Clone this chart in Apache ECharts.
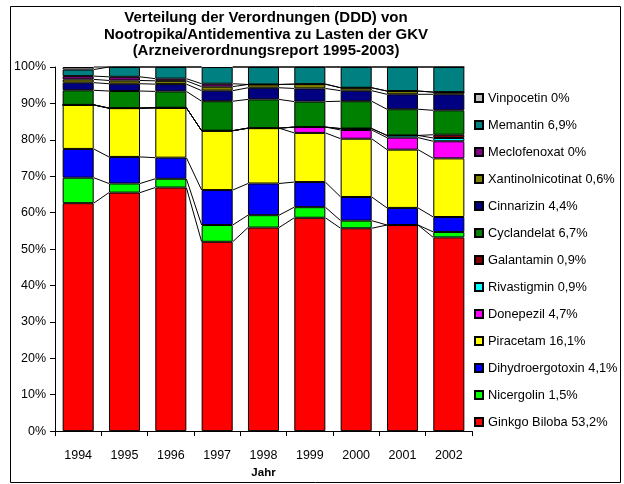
<!DOCTYPE html>
<html>
<head>
<meta charset="utf-8">
<script src="https://cdn.jsdelivr.net/npm/echarts@6/dist/echarts.min.js"></script>
<style>
  html, body { margin: 0; padding: 0; background: #fff; }
  #chart { width: 624px; height: 484px; }
</style>
</head>
<body>
<div id="chart"></div>
<script>
const years = ['1994', '1995', '1996', '1997', '1998', '1999', '2000', '2001', '2002']

// shares per year in percent (bottom of the stack first)
const ginkgo       = [62.6, 65.5, 66.9, 52.0, 55.9, 58.6, 55.7, 56.6, 53.2]
const nicergolin   = [7.0, 2.5, 2.4, 4.6, 3.4, 2.9, 2.1, 0, 1.5]
const dihydro      = [7.9, 7.3, 5.8, 9.6, 8.7, 6.9, 6.5, 4.7, 4.1]
const piracetam    = [12.1, 13.4, 13.7, 16.3, 15.2, 13.5, 16.0, 16.0, 16.1]
const donepezil    = [0, 0, 0, 0, 0, 1.6, 2.4, 3.3, 4.7]
const rivastigmin  = [0, 0, 0, 0, 0, 0, 0.4, 0.6, 0.9]
const galantamin   = [0, 0, 0, 0, 0, 0, 0, 0, 0.9]
const cyclandelat  = [4.0, 4.7, 4.5, 8.1, 7.9, 7.0, 7.5, 7.2, 6.7]
const cinnarizin   = [2.1, 2.0, 2.0, 2.9, 3.2, 3.6, 2.9, 4.1, 4.4]
const xantinol     = [0.9, 0.9, 0.9, 1.1, 0.9, 1.2, 0.8, 0.9, 0.6]
const meclofenoxat = [0.9, 1.0, 0.6, 0.8, 0, 0, 0, 0, 0]
const memantin     = [1.8, 2.7, 3.2, 4.6, 4.8, 4.7, 5.7, 6.6, 6.9]
const vinpocetin   = [0.7, 0, 0, 0, 0, 0, 0, 0, 0]

const seriesLabels = [
  'Ginkgo Biloba 53,2%', 'Nicergolin 1,5%', 'Dihydroergotoxin 4,1%', 'Piracetam 16,1%',
  'Donepezil 4,7%', 'Rivastigmin 0,9%', 'Galantamin 0,9%', 'Cyclandelat 6,7%',
  'Cinnarizin 4,4%', 'Xantinolnicotinat 0,6%', 'Meclofenoxat 0%', 'Memantin 6,9%', 'Vinpocetin 0%'
]
const seriesValues = [
  ginkgo, nicergolin, dihydro, piracetam, donepezil, rivastigmin, galantamin,
  cyclandelat, cinnarizin, xantinol, meclofenoxat, memantin, vinpocetin
]
const colors = [
  '#FF0000', '#00FF00', '#0000FF', '#FFFF00', '#FF00FF', '#00FFFF', '#800000',
  '#008000', '#000080', '#808000', '#800080', '#008080', '#C0C0C0'
]
const yTicks = { min: 0, max: 100, interval: 10 }
const titleText = 'Verteilung der Verordnungen (DDD) von\nNootropika/Antidementiva zu Lasten der GKV\n(Arzneiverordnungsreport 1995-2003)'

const font = '"Liberation Sans", Arial, sans-serif'
const barRatio = 0.67

// 100% stacked: normalise each year
const totals = years.map((_, i) => seriesValues.reduce((s, arr) => s + arr[i], 0))
const pct = seriesValues.map(arr => arr.map((v, i) => v / totals[i] * 100))

// cumulative tops per year for the series lines between bars
const cum = years.map((_, i) => {
  let s = 0
  return pct.map(arr => (s += arr[i]))
})

const chart = echarts.init(document.getElementById('chart'))

const barSeries = seriesLabels.map((name, k) => ({
  name,
  type: 'bar',
  stack: 'all',
  barCategoryGap: Math.round((1 - barRatio) * 100) + '%',
  data: pct[k],
  itemStyle: { color: colors[k], borderColor: '#000', borderWidth: 1 },
  emphasis: { disabled: true },
  animation: false
}))

const linesSeries = {
  type: 'custom',
  silent: true,
  z: 5,
  animation: false,
  data: years.slice(0, -1).map((_, i) => [i, 0]),
  encode: { x: 0, y: 1 },
  renderItem: (params, api) => {
    const i = api.value(0)
    const bw = api.size([1, 0])[0] * barRatio
    const children = cum[i].map((top, k) => {
      const a = api.coord([i, top])
      const b = api.coord([i + 1, cum[i + 1][k]])
      return {
        type: 'line',
        shape: { x1: a[0] + bw / 2, y1: a[1], x2: b[0] - bw / 2, y2: b[1] },
        style: { stroke: '#000', lineWidth: 1 }
      }
    })
    return { type: 'group', children }
  }
}

const option = {
  animation: false,
  textStyle: { fontFamily: font },
  graphic: [
    {
      type: 'rect',
      shape: { x: 10.5, y: 6.5, width: 610, height: 476 },
      style: { fill: 'none', stroke: '#000', lineWidth: 1 },
      silent: true
    },
    {
      type: 'text',
      x: 266,
      y: 10,
      silent: true,
      style: {
        text: titleText,
        font: 'bold 15px ' + font,
        fill: '#000',
        align: 'center',
        verticalAlign: 'top',
        lineHeight: 16.5
      }
    }
  ],
  legend: {
    orient: 'vertical',
    left: 469,
    top: 86,
    icon: 'rect',
    itemWidth: 8,
    itemHeight: 8,
    itemGap: 13,
    data: seriesLabels.slice().reverse(),
    textStyle: { fontFamily: font, fontSize: 12.8, color: '#000', lineHeight: 14 },
    selectedMode: false
  },
  grid: { left: 55, right: 152, top: 67, bottom: 51 },
  xAxis: {
    type: 'category',
    data: years,
    name: 'Jahr',
    nameLocation: 'middle',
    nameGap: 35,
    nameTextStyle: { fontFamily: font, fontSize: 11.5, fontWeight: 'bold', color: '#000' },
    axisLine: { lineStyle: { color: '#000', width: 1 } },
    axisTick: { show: true, length: 5, lineStyle: { color: '#000' } },
    axisLabel: { fontFamily: font, fontSize: 12.5, color: '#000', margin: 18 }
  },
  yAxis: {
    type: 'value',
    min: yTicks.min,
    max: yTicks.max,
    interval: yTicks.interval,
    splitLine: { show: false },
    axisLine: { show: true, lineStyle: { color: '#000', width: 1 } },
    axisTick: { show: true, length: 5, lineStyle: { color: '#000' } },
    axisLabel: { fontFamily: font, fontSize: 12.5, color: '#000', margin: 9, formatter: '{value}%' }
  },
  series: [...barSeries, linesSeries]
}

chart.setOption(option)
</script>
</body>
</html>
